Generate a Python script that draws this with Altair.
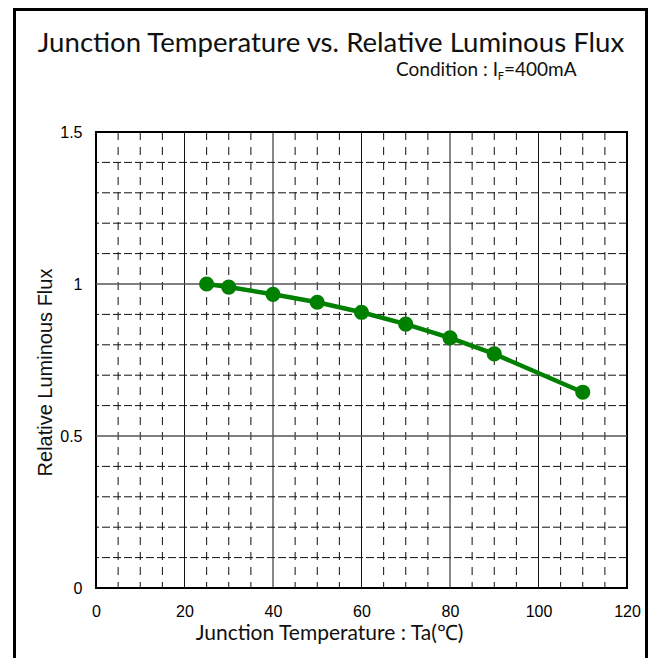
import altair as alt
import pandas as pd

# ---- data ----
temps = [25, 30, 40, 50, 60, 70, 80, 90, 110]
flux = [1.0, 0.99, 0.966, 0.94, 0.907, 0.868, 0.823, 0.77, 0.644]

x_ticks = [0, 20, 40, 60, 80, 100, 120]
y_ticks = [0, 0.5, 1, 1.5]
x_minor = [v for v in range(5, 120, 5) if v % 20 != 0]
x_major = [20, 40, 60, 80, 100]
y_minor = [0.1, 0.2, 0.3, 0.4, 0.6, 0.7, 0.8, 0.9, 1.1, 1.2, 1.3, 1.4]
y_major = [0.5, 1.0]

title_text = "Junction Temperature vs. Relative Luminous Flux"
cond_left = "Condition : I"
cond_sub = "F"
cond_right = "=400mA"
x_title = "Junction Temperature : Ta(\u2103)"
y_title = "Relative Luminous Flux"

W, H = 531, 456
GREEN = "#008000"
LABEL_FONT = "Liberation Sans Narrow, Arial Narrow, Liberation Sans, sans-serif"
TITLE_FONT = "Lato, Open Sans, sans-serif"

xscale = alt.Scale(domain=[0, 120], nice=False, zero=False)
yscale = alt.Scale(domain=[0, 1.5], nice=False, zero=False)

x_axis = alt.Axis(values=x_ticks, title=x_title, grid=False, ticks=False, domain=False,
                  labelFont=LABEL_FONT, labelFontSize=16, labelColor="#000",
                  labelPadding=15, labelFlush=False,
                  titleFont=TITLE_FONT, titleFontSize=21, titleFontWeight="normal",
                  titleColor="#111", titleX=233, titleY=51, titleAlign="center",
                  titleBaseline="alphabetic")
y_axis = alt.Axis(values=y_ticks, format="~g", title=y_title, grid=False, ticks=False,
                  domain=False, labelFont=LABEL_FONT, labelFontSize=16, labelColor="#000",
                  labelPadding=14, labelFlush=False,
                  titleFont="Liberation Sans, Arial, sans-serif", titleFontSize=20,
                  titleFontWeight="normal", titleColor="#111", titleAngle=270,
                  titleX=-51, titleY=240, titleAlign="center", titleBaseline="middle")


def X(field):
    return alt.X(field, type="quantitative", scale=xscale, axis=x_axis)


def Y(field):
    return alt.Y(field, type="quantitative", scale=yscale, axis=y_axis)


df = pd.DataFrame({"t": temps, "f": flux})
one = pd.DataFrame({"a": [0]})

vminor = alt.Chart(pd.DataFrame({"t": x_minor})).mark_rule(
    color="#111", strokeWidth=1, strokeDash=[8, 7]).encode(x=X("t"))
hminor = alt.Chart(pd.DataFrame({"f": y_minor})).mark_rule(
    color="#111", strokeWidth=1, strokeDash=[8, 3]).encode(y=Y("f"))
vmajor = alt.Chart(pd.DataFrame({"t": x_major})).mark_rule(
    color="#111", strokeWidth=1).encode(x=X("t"))
hmajor = alt.Chart(pd.DataFrame({"f": y_major})).mark_rule(
    color="#555", strokeWidth=1.5).encode(y=Y("f"))

line = alt.Chart(df).mark_line(color=GREEN, strokeWidth=4.5).encode(x=X("t"), y=Y("f"))
pts = alt.Chart(df).mark_circle(color=GREEN, size=230, opacity=1).encode(x=X("t"), y=Y("f"))

border = alt.Chart(one).mark_rect(fill=None, stroke="#000", strokeWidth=3).encode(
    x=alt.value(-81.5), x2=alt.value(550.5), y=alt.value(-122.5), y2=alt.value(600))

title = alt.Chart(one).mark_text(font=TITLE_FONT, fontSize=27.6, color="#111",
                                 align="center", baseline="alphabetic").encode(
    x=alt.value(235), y=alt.value(-80), text=alt.value(title_text))
c1 = alt.Chart(one).mark_text(font=TITLE_FONT, fontSize=19, color="#111",
                              align="right", baseline="alphabetic").encode(
    x=alt.value(402), y=alt.value(-56), text=alt.value(cond_left))
c2 = alt.Chart(one).mark_text(font=TITLE_FONT, fontSize=11, color="#111",
                              align="right", baseline="alphabetic").encode(
    x=alt.value(408), y=alt.value(-52), text=alt.value(cond_sub))
c3 = alt.Chart(one).mark_text(font=TITLE_FONT, fontSize=19, color="#111",
                              align="left", baseline="alphabetic").encode(
    x=alt.value(408), y=alt.value(-56), text=alt.value(cond_right))

chart = alt.layer(vminor, hminor, vmajor, hmajor, line, pts, border, title, c1, c2, c3).properties(
    width=W, height=H,
    autosize=alt.AutoSizeParams(type="none"),
    padding={"left": 88, "top": 124, "right": 21, "bottom": 70},
    background="white",
).configure_view(stroke="#000", strokeWidth=2)

chart.save("out.html", embed_options={"renderer": "svg", "actions": False})
